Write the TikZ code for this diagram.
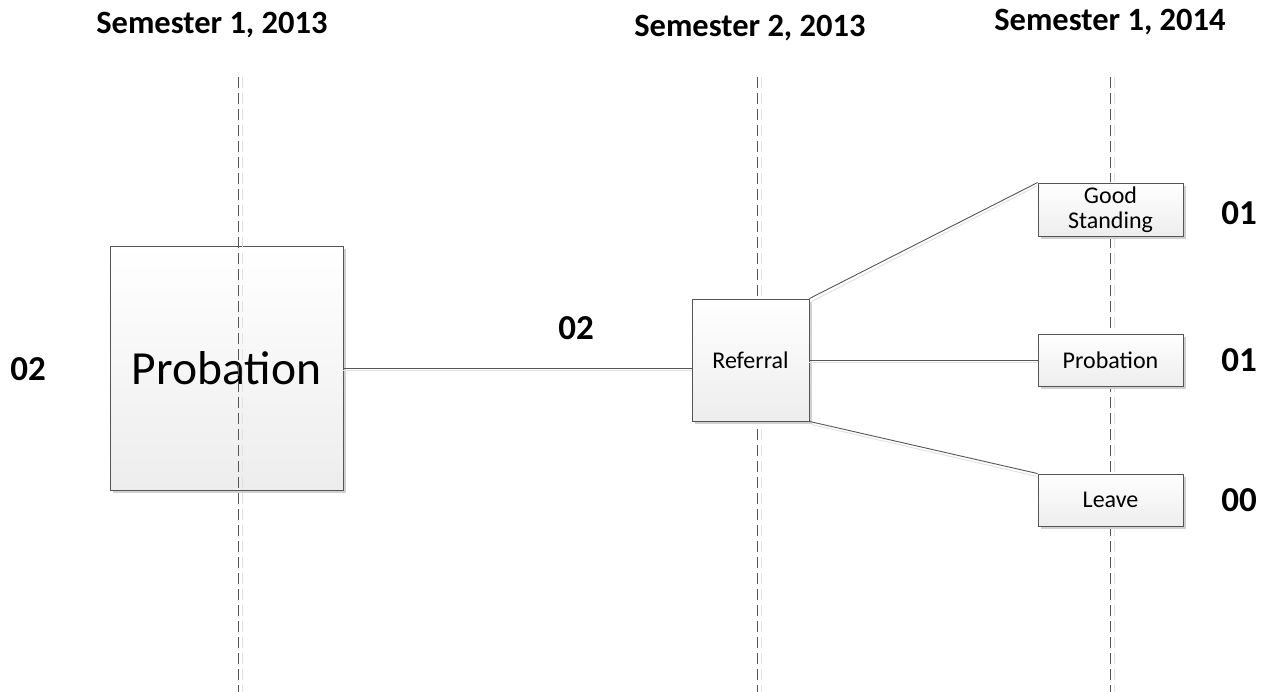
\documentclass[tikz,border=0pt]{standalone}
\usepackage{fontspec}
\setmainfont{Carlito}
\usetikzlibrary{shadows}
\definecolor{edgegray}{HTML}{555555}
\definecolor{shadegray}{HTML}{E2E2E2}
\tikzset{
  box/.style={draw=edgegray, line width=0.9pt, shading=axis, top color=white, bottom color=black!7,
    drop shadow={shadow xshift=3pt, shadow yshift=-3pt, fill=black!18, opacity=1},
    inner sep=0pt, align=center, font=\fontsize{24}{26}\selectfont},
  conn/.style={draw=edgegray, line width=0.9pt},
  connshadow/.style={draw=shadegray, line width=1pt},
  timeline/.style={draw=edgegray, line width=1pt, dash pattern=on 11pt off 5pt},
  timeshadow/.style={draw=shadegray, line width=1pt, dash pattern=on 11pt off 5pt},
  head/.style={font=\bfseries\fontsize{32.5}{34}\selectfont, inner sep=0pt},
  count/.style={font=\bfseries\fontsize{35}{37}\selectfont, inner sep=0pt}
}
\begin{document}
\begin{tikzpicture}[x=1pt,y=-1pt]
\useasboundingbox (0,0) rectangle (1261,692);
% headings
\node[head] (h1) at (212,25) {Semester 1, 2013};
\node[head] (h2) at (750,28) {Semester 2, 2013};
\node[head] (h3) at (1110,22) {Semester 1, 2014};
% timelines
\coordinate (t1a) at (238,77); \coordinate (t1b) at (238,692);
\coordinate (t2a) at (757,77); \coordinate (t2b) at (757,692);
\coordinate (t3a) at (1110,77); \coordinate (t3b) at (1110,692);
\draw[timeshadow] ([xshift=4pt]t1a) -- ([xshift=4pt]t1b);
\draw[timeshadow] ([xshift=4pt]t2a) -- ([xshift=4pt]t2b);
\draw[timeshadow] ([xshift=4pt]t3a) -- ([xshift=4pt]t3b);
\draw[timeline] (t1a) -- (t1b);
\draw[timeline] (t2a) -- (t2b);
\draw[timeline] (t3a) -- (t3b);
% boxes
\node[box, minimum width=233pt, minimum height=244pt, font=\fontsize{47.5}{50}\selectfont] (prob) at (226.5,368) {Probation};
\node[box, minimum width=117pt, minimum height=122pt] (ref) at (750.5,360) {Referral};
\node[box, minimum width=145pt, minimum height=53pt, font=\fontsize{24}{25}\selectfont] (good) at (1110.5,209.5) {Good\\Standing};
\node[box, minimum width=145pt, minimum height=52pt] (prob2) at (1110.5,360) {Probation};
\node[box, minimum width=145pt, minimum height=52pt] (leave) at (1110.5,500) {Leave};
% timeline visible through the large box
\begin{scope}
\clip (prob.south west) rectangle (prob.north east);
\draw[timeshadow] ([xshift=4pt]t1a) -- ([xshift=4pt]t1b);
\draw[timeline] (t1a) -- (t1b);
\end{scope}
% connectors
\draw[connshadow] ([shift={(0,3)}]prob.east) -- ([shift={(0,3)}]ref.west |- prob.east);
\draw[conn] (prob.east) -- (ref.west |- prob.east);
\draw[connshadow] ([shift={(2,3)}]ref.north east) -- ([shift={(0,3)}]good.north west);
\draw[conn] (ref.north east) -- (good.north west);
\draw[connshadow] ([shift={(0,3)}]ref.east) -- ([shift={(0,3)}]prob2.west);
\draw[conn] (ref.east) -- (prob2.west);
\draw[connshadow] ([shift={(2,3)}]ref.south east) -- ([shift={(0,3)}]leave.north west);
\draw[conn] (ref.south east) -- (leave.north west);
% counts
\node[count] (c1) at (28,369) {02};
\node[count] (c2) at (576,328) {02};
\node[count] (c3) at (1239,213) {01};
\node[count] (c4) at (1239,360) {01};
\node[count] (c5) at (1239,500) {00};
\end{tikzpicture}
\end{document}
